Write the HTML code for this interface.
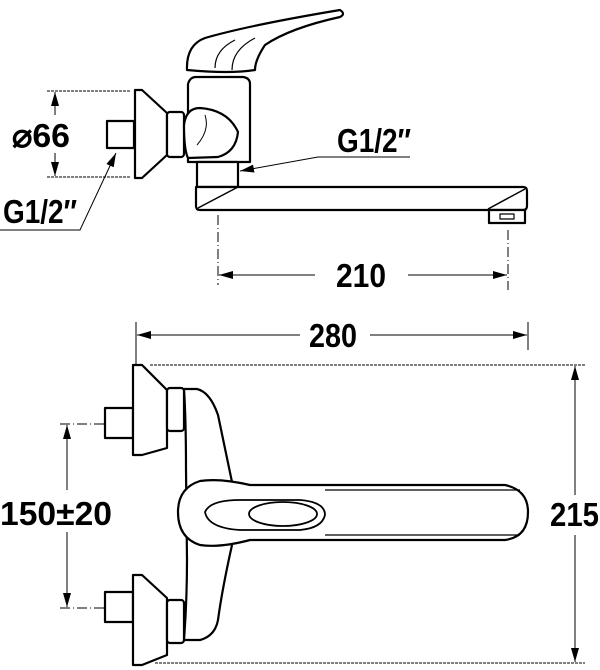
<!DOCTYPE html>
<html><head><style>
html,body{margin:0;padding:0;background:#fff;}
svg{display:block;}
text{font-family:"Liberation Sans",sans-serif;font-weight:bold;fill:#000;}
</style></head><body>
<svg width="600" height="670" viewBox="0 0 600 670" xmlns="http://www.w3.org/2000/svg">
<defs>
<marker id="a" markerWidth="14" markerHeight="8" refX="14" refY="4" orient="auto" markerUnits="userSpaceOnUse">
<path d="M0,0 L14,4 L0,8 Z" fill="#000"/></marker>
</defs>
<g fill="none" stroke="#000" stroke-width="1">
<line x1="47" y1="91" x2="130" y2="91" stroke-dasharray="3,1"/>
<line x1="47" y1="177" x2="130" y2="177" stroke-dasharray="3,1"/>
<line x1="55" y1="115" x2="55" y2="92" marker-end="url(#a)"/>
<line x1="55" y1="153" x2="55" y2="176" marker-end="url(#a)"/>
<polyline points="0,230 80,230 116,153" marker-end="url(#a)"/>
<polyline points="410,157 318,157 240,171" marker-end="url(#a)"/>
<line x1="218" y1="215" x2="218" y2="285" stroke-dasharray="10,3,1,3"/>
<line x1="508" y1="230" x2="508" y2="290" stroke-dasharray="10,3,1,3"/>
<line x1="315" y1="275" x2="219" y2="275" marker-end="url(#a)"/>
<line x1="408" y1="275" x2="507" y2="275" marker-end="url(#a)"/>
<line x1="136" y1="322" x2="136" y2="365"/>
<line x1="528" y1="322" x2="528" y2="350"/>
<line x1="300" y1="335" x2="137" y2="335" marker-end="url(#a)"/>
<line x1="370" y1="335" x2="527" y2="335" marker-end="url(#a)"/>
<line x1="150" y1="365" x2="585" y2="365" stroke-dasharray="3,1"/>
<line x1="155" y1="663" x2="585" y2="663" stroke-dasharray="3,1"/>
<line x1="575" y1="495" x2="575" y2="366" marker-end="url(#a)"/>
<line x1="575" y1="535" x2="575" y2="662" marker-end="url(#a)"/>
<line x1="60" y1="424" x2="150" y2="424" stroke-dasharray="10,3,1,3"/>
<line x1="60" y1="608" x2="150" y2="608" stroke-dasharray="10,3,1,3"/>
<line x1="67" y1="490" x2="67" y2="425" marker-end="url(#a)"/>
<line x1="67" y1="532" x2="67" y2="607" marker-end="url(#a)"/>
</g>
<g fill="#fff" stroke="#000" stroke-width="2.2" stroke-linejoin="round">
<rect x="107" y="121" width="27" height="27"/>
<path d="M135,90 L142,90 L167,113 L167,155 L142,178 L135,178 Z"/>
<rect x="167" y="112" width="17" height="45" rx="3"/>
<path d="M188,162 L188,84 Q190,77 196,77 L243,77 Q250,78 250,84 L250,162 Z"/>
<path d="M184,125 Q186,108 200,108 Q228,110 238,132 Q236,152 218,157 L188,158 Q184,150 184,125 Z"/>
<path d="M197,145 Q210,130 205,115" stroke-width="1"/>
<path d="M187,70 Q186,45 205,38 Q250,25 340,10 Q346,14 340,17 Q290,28 265,45 Q255,60 255,70 Q230,74 187,70 Z"/>
<path d="M215,68 Q215,50 235,40 M232,70 Q232,50 255,38" fill="none" stroke-width="1.2"/>
<rect x="197" y="162" width="41" height="25"/>
<path d="M196,187 L523,187 Q527,187 527,191 L527,206 Q527,210 523,210 L200,210 Q196,210 196,206 Z"/>
<path d="M198,208 L238,187 M488,209 L525,189" fill="none" stroke-width="1.5"/>
<rect x="489" y="210" width="36" height="13"/>
<rect x="500" y="214" width="14" height="5" stroke-width="1.2"/>
<rect x="105" y="408" width="28" height="30"/>
<path d="M133,365 L142,365 L167,390 L167,448 L142,455 L133,455 Z"/>
<rect x="167" y="388" width="17" height="43" rx="3"/>
<rect x="105" y="592" width="28" height="30"/>
<path d="M133,575 L142,575 L167,598 L167,655 L142,665 L133,665 Z"/>
<rect x="167" y="600" width="17" height="43" rx="3"/>
<path d="M184,389 L197,389 Q210,392 218,415 L232,482 L232,545 Q222,590 218,620 Q215,636 200,640 L184,640 Q187,600 187,560 L186,470 Q186,420 184,389 Z"/>
<path d="M178,512 Q178,488 200,481 Q220,478 250,485 L505,485 Q528,490 528,512 Q528,537 505,540 L250,540 Q220,548 200,545 Q178,538 178,512 Z"/>
<path d="M205,512 Q210,500 240,500 L300,500 Q325,502 325,515 Q322,528 300,530 L240,530 Q208,528 205,512 Z" stroke-width="1.8"/>
<ellipse cx="283" cy="514" rx="34" ry="12" stroke-width="1.8"/>
<path d="M325,490 L520,490 M325,535 L520,535" fill="none" stroke-width="1.2"/>
</g>
<g font-size="33">
<text x="12" y="147" textLength="58" lengthAdjust="spacingAndGlyphs">⌀66</text>
<text x="3" y="223" textLength="74" lengthAdjust="spacingAndGlyphs">G1/2″</text>
<text x="337" y="152" textLength="74" lengthAdjust="spacingAndGlyphs">G1/2″</text>
<text x="336" y="287" textLength="50" lengthAdjust="spacingAndGlyphs">210</text>
<text x="309" y="347" textLength="48" lengthAdjust="spacingAndGlyphs">280</text>
<text x="550" y="526" textLength="49" lengthAdjust="spacingAndGlyphs">215</text>
<text x="0" y="525" textLength="112" lengthAdjust="spacingAndGlyphs">150±20</text>
</g>
</svg>
</body></html>
